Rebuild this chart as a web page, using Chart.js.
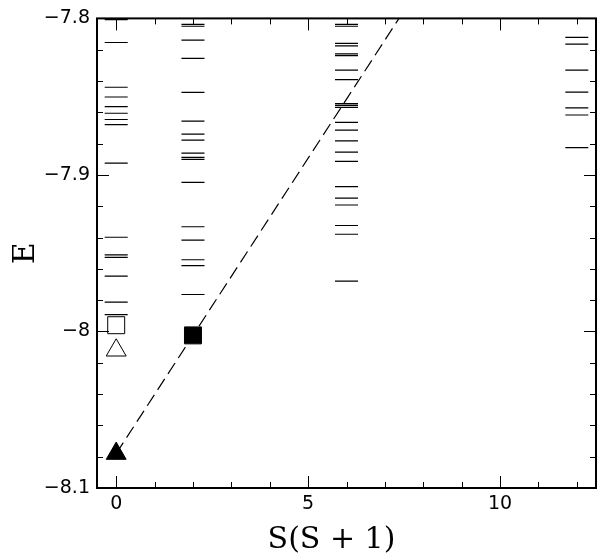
<!DOCTYPE html>
<html>
<head>
<meta charset="utf-8">
<script src="https://cdn.jsdelivr.net/npm/chart.js@4/dist/chart.umd.min.js"></script>
<style>
  html, body { margin: 0; padding: 0; background: #fff; }
  #wrap { width: 609px; height: 559px; }
</style>
</head>
<body>
<div id="wrap"><canvas id="canvas" width="609" height="559"></canvas></div>
<script>
// S(S+1) columns and the levels at each one
const spinValues = [0, 2, 6, 12];
const levels0 = [-7.8008, -7.8154, -7.8440, -7.8502, -7.8563, -7.8606, -7.8646, -7.8679, -7.8925,
  -7.9398, -7.9511, -7.9527, -7.9646, -7.9813, -7.9892];
const levels2 = [-7.8038, -7.8050, -7.8139, -7.8256, -7.8473, -7.8656, -7.8739, -7.8777, -7.8861,
  -7.8888, -7.8900, -7.9048, -7.9331, -7.9417, -7.9542, -7.9579, -7.9764];
const levels6 = [-7.8038, -7.8050, -7.8159, -7.8175, -7.8227, -7.8238, -7.8331, -7.8391, -7.8544,
  -7.8556, -7.8569, -7.8664, -7.8714, -7.8783, -7.8854, -7.8914, -7.9075, -7.9148, -7.9192,
  -7.9323, -7.9379, -7.9679];
const levels12 = [-7.8121, -7.8164, -7.8331, -7.8471, -7.8571, -7.8617, -7.8825];
const allLevels = [levels0, levels2, levels6, levels12];

// markers
const filledTriX = [0], filledTriY = [-8.078];
const filledSqX = [2], filledSqY = [-8.0025];
const openSqX = [0], openSqY = [-7.996];
const openTriX = [0], openTriY = [-8.012];

// dashed fit through the filled markers
const fitX = [0, 7.5];
const fitY = [-8.078, -7.795];

// axis ticks
const xTicks = [0, 5, 10];
const yTicks = [-8.1, -8.0, -7.9, -7.8];

const DASH_HALF = 0.3;

const pts = (xs, ys) => xs.map((x, i) => ({ x: x, y: ys[i] }));

const levelPts = [];
spinValues.forEach((s, k) => {
  allLevels[k].forEach(v => {
    levelPts.push({ x: s - DASH_HALF, y: v }, { x: s + DASH_HALF, y: v }, { x: s, y: null });
  });
});

const frameTicks = {
  id: 'frameTicks',
  afterDraw(chart) {
    const { ctx, chartArea: a, scales } = chart;
    const xs = scales.x, ys = scales.y;
    ctx.save();
    ctx.strokeStyle = '#000';
    ctx.lineWidth = 1;
    ctx.beginPath();
    for (let i = 0; i <= 12; i++) {
      const px = Math.round(xs.getPixelForValue(i)) + 0.5;
      const len = i % 5 === 0 ? 12 : 6;
      ctx.moveTo(px, a.bottom); ctx.lineTo(px, a.bottom - len);
      ctx.moveTo(px, a.top); ctx.lineTo(px, a.top + len);
    }
    for (let i = 0; i <= 15; i++) {
      const py = Math.round(ys.getPixelForValue(-8.1 + i * 0.02)) + 0.5;
      const len = i % 5 === 0 ? 12 : 6;
      ctx.moveTo(a.left, py); ctx.lineTo(a.left + len, py);
      ctx.moveTo(a.right, py); ctx.lineTo(a.right - len, py);
    }
    ctx.stroke();
    ctx.lineWidth = 2;
    ctx.strokeRect(a.left, a.top, a.right - a.left, a.bottom - a.top);
    ctx.restore();
  }
};

const tickFont = { family: 'DejaVu Sans', size: 19 };

new Chart(document.getElementById('canvas'), {
  type: 'scatter',
  data: {
    datasets: [
      {
        data: levelPts, showLine: true, spanGaps: false, pointRadius: 0,
        borderColor: '#000', borderWidth: 1.2, order: 3
      },
      {
        data: pts(fitX, fitY), showLine: true, pointRadius: 0,
        borderColor: '#000', borderWidth: 1.2, borderDash: [13, 6], order: 2
      },
      {
        data: pts(filledTriX, filledTriY), pointStyle: 'triangle', pointRadius: 11.5,
        backgroundColor: '#000', borderColor: '#000', borderWidth: 1, order: 1
      },
      {
        data: pts(filledSqX, filledSqY), pointStyle: 'rect', pointRadius: 12,
        backgroundColor: '#000', borderColor: '#000', borderWidth: 1, order: 1
      },
      {
        data: pts(openSqX, openSqY), pointStyle: 'rect', pointRadius: 12,
        backgroundColor: '#fff', borderColor: '#000', borderWidth: 1, order: 1
      },
      {
        data: pts(openTriX, openTriY), pointStyle: 'triangle', pointRadius: 11.5,
        backgroundColor: '#fff', borderColor: '#000', borderWidth: 1, order: 1
      }
    ]
  },
  options: {
    responsive: false,
    animation: false,
    layout: { padding: { left: 0, top: 8, right: 9, bottom: 0 } },
    plugins: { legend: { display: false }, tooltip: { enabled: false } },
    scales: {
      x: {
        type: 'linear', min: -0.5, max: 12.5,
        grid: { display: false, drawTicks: false },
        border: { display: false },
        afterBuildTicks: s => { s.ticks = xTicks.map(v => ({ value: v })); },
        afterFit: s => { s.height = 71; },
        ticks: { color: '#000', font: tickFont, padding: 5, callback: v => String(v) },
        title: {
          display: true, text: 'S(S + 1)\u2003', color: '#000',
          font: { family: 'DejaVu Serif', size: 30 }, padding: { top: 0, bottom: 1 }
        }
      },
      y: {
        type: 'linear', min: -8.1, max: -7.8,
        grid: { display: false, drawTicks: false },
        border: { display: false },
        afterBuildTicks: s => { s.ticks = yTicks.map(v => ({ value: v })); },
        afterFit: s => { s.width = 97; },
        ticks: {
          color: '#000', font: tickFont, padding: 7,
          callback: v => '\u2212' + Math.abs(Math.round(v * 10) / 10)
        },
        title: {
          display: true, text: 'E', color: '#000',
          font: { family: 'DejaVu Serif', size: 30 }, padding: { top: 8, bottom: 0 }
        }
      }
    }
  },
  plugins: [frameTicks]
});
</script>
</body>
</html>
